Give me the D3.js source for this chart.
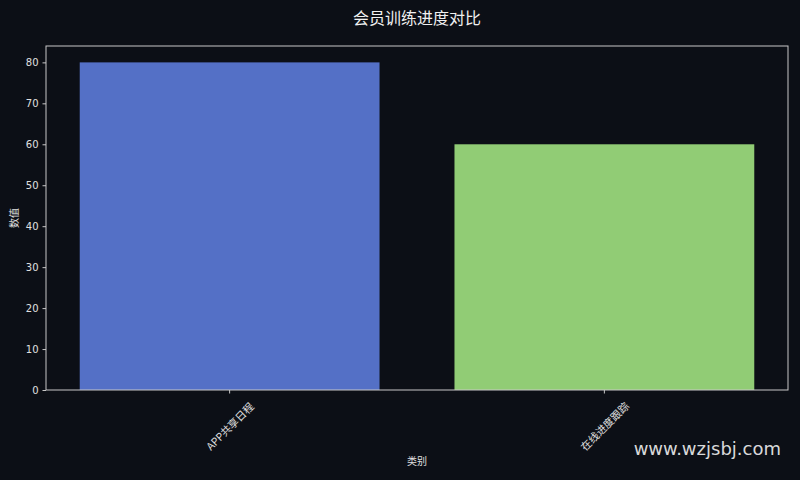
<!DOCTYPE html>
<html>
<head>
<meta charset="utf-8">
<script src="https://cdn.jsdelivr.net/npm/d3@7"></script>
<style>
  body { margin: 0; background: #0c0f16; }
  text { font-family: "Noto Sans CJK SC", "DejaVu Sans", sans-serif; }
</style>
</head>
<body>
<div id="chart"></div>
<script>
// Data
const categories = ["APP共享日程", "在线进度跟踪"];
const values = [80, 60];
const barColors = ["#5470c6", "#91cc75"];
const yTicks = [0, 10, 20, 30, 40, 50, 60, 70, 80];

const width = 800;
const height = 480;
const margin = { top: 46, right: 12, bottom: 90, left: 46 };

const svg = d3.select("#chart")
  .append("svg")
  .attr("width", width)
  .attr("height", height);

svg.append("rect")
  .attr("width", width)
  .attr("height", height)
  .attr("fill", "#0c0f16");

// Scales
const xScale = d3.scaleBand()
  .domain(categories)
  .range([margin.left, width - margin.right])
  .paddingInner(0.2)
  .paddingOuter(0.09);

const yScale = d3.scaleLinear()
  .domain([0, 84])
  .range([height - margin.bottom, margin.top]);

// Bars
svg.selectAll("rect.bar")
  .data(categories)
  .enter()
  .append("rect")
    .attr("class", "bar")
    .attr("x", d => xScale(d))
    .attr("y", (d, i) => yScale(values[i]))
    .attr("width", xScale.bandwidth())
    .attr("height", (d, i) => yScale(0) - yScale(values[i]))
    .attr("fill", (d, i) => barColors[i]);

// Frame
svg.append("rect")
  .attr("x", margin.left)
  .attr("y", margin.top)
  .attr("width", width - margin.left - margin.right)
  .attr("height", height - margin.top - margin.bottom)
  .attr("fill", "none")
  .attr("stroke", "#c8c8c8")
  .attr("stroke-width", 1);

// Y axis
const yAxis = svg.append("g")
  .attr("transform", `translate(${margin.left},0)`)
  .call(d3.axisLeft(yScale).tickValues(yTicks).tickSize(3.5).tickPadding(4));
yAxis.select(".domain").remove();
yAxis.selectAll("line").attr("stroke", "#c8c8c8");
yAxis.selectAll("text")
  .attr("fill", "#e0e0e0")
  .style("font-size", "10px")
  .style("font-family", "'DejaVu Sans', sans-serif");

// X axis
const xAxis = svg.append("g")
  .attr("transform", `translate(0,${height - margin.bottom})`)
  .call(d3.axisBottom(xScale).tickSize(3.5).tickFormat(""));
xAxis.select(".domain").remove();
xAxis.selectAll("line").attr("stroke", "#c8c8c8");

svg.selectAll("text.xlabel")
  .data(categories)
  .enter()
  .append("text")
    .attr("class", "xlabel")
    .attr("transform", d => `translate(${xScale(d) + xScale.bandwidth() / 2},${height - margin.bottom + 36}) rotate(-45)`)
    .attr("text-anchor", "middle")
    .attr("dominant-baseline", "central")
    .attr("fill", "#e0e0e0")
    .style("font-size", "10.5px")
    .text(d => d);

// Axis titles
svg.append("text")
  .attr("x", (width - margin.left - margin.right) / 2 + margin.left)
  .attr("y", 465)
  .attr("text-anchor", "middle")
  .attr("fill", "#e0e0e0")
  .style("font-size", "10px")
  .text("类别");

svg.append("text")
  .attr("transform", `translate(18,${(height - margin.top - margin.bottom) / 2 + margin.top}) rotate(-90)`)
  .attr("text-anchor", "middle")
  .attr("fill", "#e0e0e0")
  .style("font-size", "10px")
  .text("数值");

// Title
svg.append("text")
  .attr("x", (width - margin.left - margin.right) / 2 + margin.left)
  .attr("y", 24)
  .attr("text-anchor", "middle")
  .attr("fill", "#f0f0f0")
  .style("font-size", "16px")
  .text("会员训练进度对比");

// Watermark
svg.append("text")
  .attr("x", 781)
  .attr("y", 455)
  .attr("text-anchor", "end")
  .attr("fill", "#ffffff")
  .attr("fill-opacity", 0.85)
  .style("font-size", "18px")
  .style("font-family", "'DejaVu Sans', sans-serif")
  .text("www.wzjsbj.com");
</script>
</body>
</html>
